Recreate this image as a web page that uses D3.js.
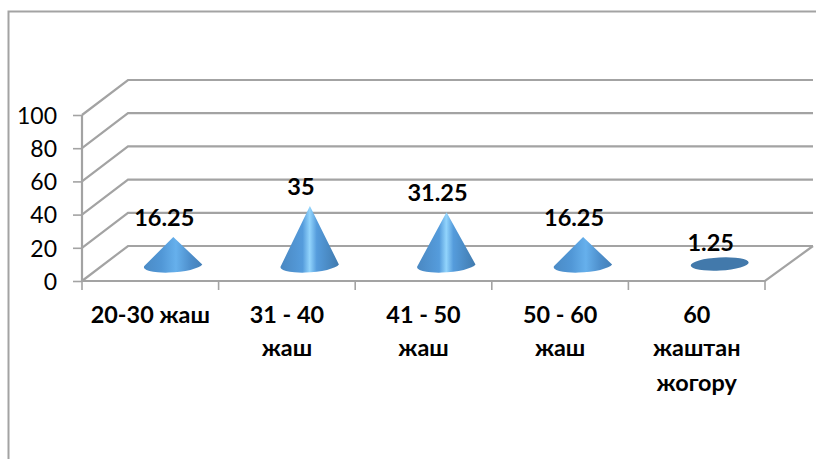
<!DOCTYPE html>
<html><head><meta charset="utf-8">
<script src="https://cdn.jsdelivr.net/npm/d3@7/dist/d3.min.js"></script>
<style>html,body{margin:0;padding:0;background:#fff}svg{display:block}</style>
</head><body><svg id="c" width="816" height="459"></svg>
<script>
const categories = ["20-30 жаш","31 - 40 жаш","41 - 50 жаш","50 - 60 жаш","60 жаштан жогору"];
const categoryLines = [["20-30 жаш"],["31 - 40","жаш"],["41 - 50","жаш"],["50 - 60","жаш"],["60","жаштан","жогору"]];
const values = [16.25,35,31.25,16.25,1.25];
const yTicks = [0,20,40,60,80,100];

const svg = d3.select("#c");
const font = "Lato, Carlito, sans-serif";
const grey = "#a3a3a3";
const x = d3.scaleBand().domain(categories).range([82,765]).padding(0);
const y = d3.scaleLinear().domain([0,100]).range([281,115]);
const depth = {dx:46, dy:-35};

const defs = svg.append("defs");
const g = defs.append("linearGradient").attr("id","cone");
[[0,"#4b8bc6"],[0.3,"#5197d6"],[0.55,"#66b0ec"],[0.8,"#4d8ecb"],[1,"#4580b8"]]
  .forEach(s=>g.append("stop").attr("offset",s[0]).attr("stop-color",s[1]));
const gt = defs.append("linearGradient").attr("id","coneTall");
[[0,"#4a88c2"],[0.38,"#559cdc"],[0.5,"#92d4fc"],[0.62,"#559cdc"],[1,"#407aae"]]
  .forEach(s=>gt.append("stop").attr("offset",s[0]).attr("stop-color",s[1]));

// chart frame
svg.append("path").attr("d","M8.5,459V11.5H816").attr("fill","none").attr("stroke",grey).attr("stroke-width",2);

// walls and gridlines
const grid = svg.append("g").attr("fill","none").attr("stroke",grey).attr("stroke-width",2.2);
yTicks.forEach(t=>{
  grid.append("path").attr("d",d3.line()([[82,y(t)],[82+depth.dx,y(t)+depth.dy],[813,y(t)+depth.dy]]));
});
grid.append("path").attr("d",d3.line()([[82,y(0)],[765,y(0)],[765+depth.dx+2,y(0)+depth.dy]]));
grid.append("path").attr("d",d3.line()([[82,y(100)],[82,y(0)]]));

// axes
const yAxis = svg.append("g").attr("transform","translate(82,0)").call(d3.axisLeft(y).tickValues(yTicks).tickSize(9).tickPadding(16));
yAxis.select(".domain").remove();
yAxis.selectAll("line").attr("stroke",grey).attr("stroke-width",1.6);
yAxis.selectAll("text").attr("font-family",font).attr("font-size",23).attr("fill","#000").attr("dy","0.36em");
const xTicks = svg.append("g").attr("stroke",grey).attr("stroke-width",1.6);
x.domain().concat([null]).forEach(c=>{
  const px = c===null ? x.range()[1] : x(c);
  xTicks.append("line").attr("x1",px).attr("x2",px).attr("y1",y(0)).attr("y2",y(0)+9);
});

// category labels
const lineY = [316,349,384];
categories.forEach((c,i)=>{
  categoryLines[i].forEach((s,j)=>{
    svg.append("text").attr("x",x(c)+x.bandwidth()/2).attr("y",lineY[j]+7)
      .attr("text-anchor","middle").attr("font-family",font).attr("font-weight",700)
      .attr("font-size",23.4).attr("fill","#000").text(s);
  });
});

// cones
const rx = 29, ry = 8;
const baseLift = y(0)-16;
categories.forEach((c,i)=>{
  const cx = x(c)+x.bandwidth()/2+depth.dx/2;
  const v = values[i];
  const h = y(0)-y(v);
  if (v < 5) {
    svg.append("ellipse").attr("cx",cx).attr("cy",baseLift-1).attr("rx",rx).attr("ry",6.5)
      .attr("transform",`rotate(-3 ${cx} ${baseLift-1})`).attr("fill","#4279ab");
  } else {
    svg.append("path")
      .attr("d",`M${cx-rx},${baseLift+1}L${cx},${baseLift-h-1}L${cx+rx},${baseLift-0.5}A${rx},${ry-1} -4 0 1 ${cx-rx},${baseLift+1}Z`)
      .attr("fill",`url(#${v>25?"coneTall":"cone"})`);
  }
  svg.append("text").attr("x",cx-9).attr("y",baseLift-h-12)
    .attr("text-anchor","middle").attr("font-family",font).attr("font-weight",700)
    .attr("font-size",23.5).attr("fill","#000").text(v);
});
</script></body></html>
